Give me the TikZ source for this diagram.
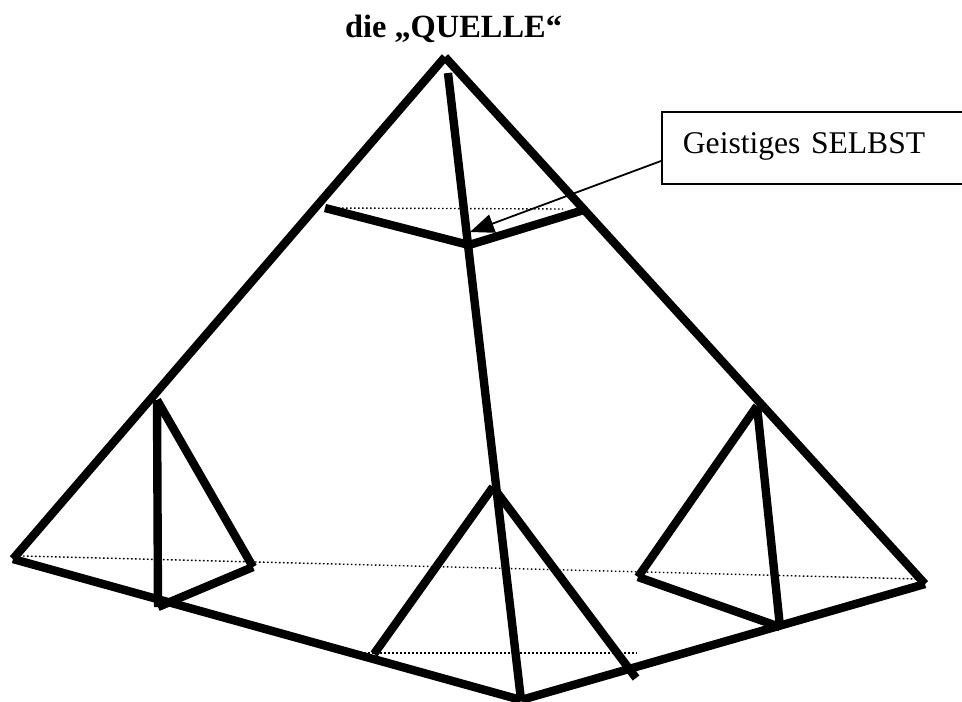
\documentclass[tikz,border=0pt]{standalone}
\usepackage{fontspec}
\setmainfont{Liberation Serif}
\usetikzlibrary{arrows.meta, positioning}

\begin{document}
\begin{tikzpicture}[
      x=1pt, y=-1pt,
      edge/.style={draw, line width=8.4pt},
      hidden/.style={draw, line width=1.4pt, dash pattern=on 1.6pt off 2.4pt},
      title_block/.style={font=\fontsize{32.4}{36}\selectfont\bfseries, inner sep=0pt},
      label_block/.style={rectangle, draw, line width=1.8pt, minimum width=320pt, minimum height=72pt, anchor=west, align=left, text width=278pt, text height=21pt, text depth=11pt, inner sep=0pt, font=\fontsize{31.6}{36}\selectfont},
      pointer/.style={draw, line width=1.8pt, -{Triangle[length=24pt, width=19pt]}}
  ]
  \useasboundingbox (0,0) rectangle (962,702);

  \coordinate (apex) at (445,57);
  \coordinate (left) at (13,559);
  \coordinate (right) at (925,584);
  \coordinate (front) at (521,700);
  \coordinate (axis) at (448,73);

  \coordinate (selfl) at (325,208);
  \coordinate (selfm) at (469,245);
  \coordinate (selfr) at (587,209);

  \coordinate (lefttop) at (157,400);
  \coordinate (leftfoot) at (158,607);
  \coordinate (leftside) at (253,567);

  \coordinate (midtop) at (493,487);
  \coordinate (midleft) at (374,654);
  \coordinate (midright) at (636,678);

  \coordinate (righttop) at (757,406);
  \coordinate (rightside) at (638,577);
  \coordinate (rightfoot) at (780,627);

  \node [title_block] (title) at (453.5,29) {die „QUELLE“};
  \node [label_block] (selbst) at (661,148) {Geistiges SELBST};

  % hidden edges
  \path [hidden] (330,208) -- (563,209);
  \path [hidden] (23,556) -- (918,579);
  \path [hidden] (360,653) -- (637,653);

  % outline
  \path [edge] (left) -- (apex);
  \path [edge] (apex) -- (right);
  \path [edge] (left) -- (front);
  \path [edge] (front) -- (right);
  \path [edge] (axis) -- (front);

  % top
  \path [edge] (selfl) -- (selfm);
  \path [edge] (selfm) -- (selfr);

  % small ones
  \path [edge] (lefttop) -- (leftfoot);
  \path [edge] (lefttop) -- (leftside);
  \path [edge] (leftfoot) -- (leftside);
  \path [edge] (midleft) -- (midtop);
  \path [edge] (midtop) -- (midright);
  \path [edge] (righttop) -- (rightside);
  \path [edge] (righttop) -- (rightfoot);
  \path [edge] (rightside) -- (rightfoot);

  \path [pointer] (selbst.west |- 0,161) -- (470,232);
\end{tikzpicture}
\end{document}
